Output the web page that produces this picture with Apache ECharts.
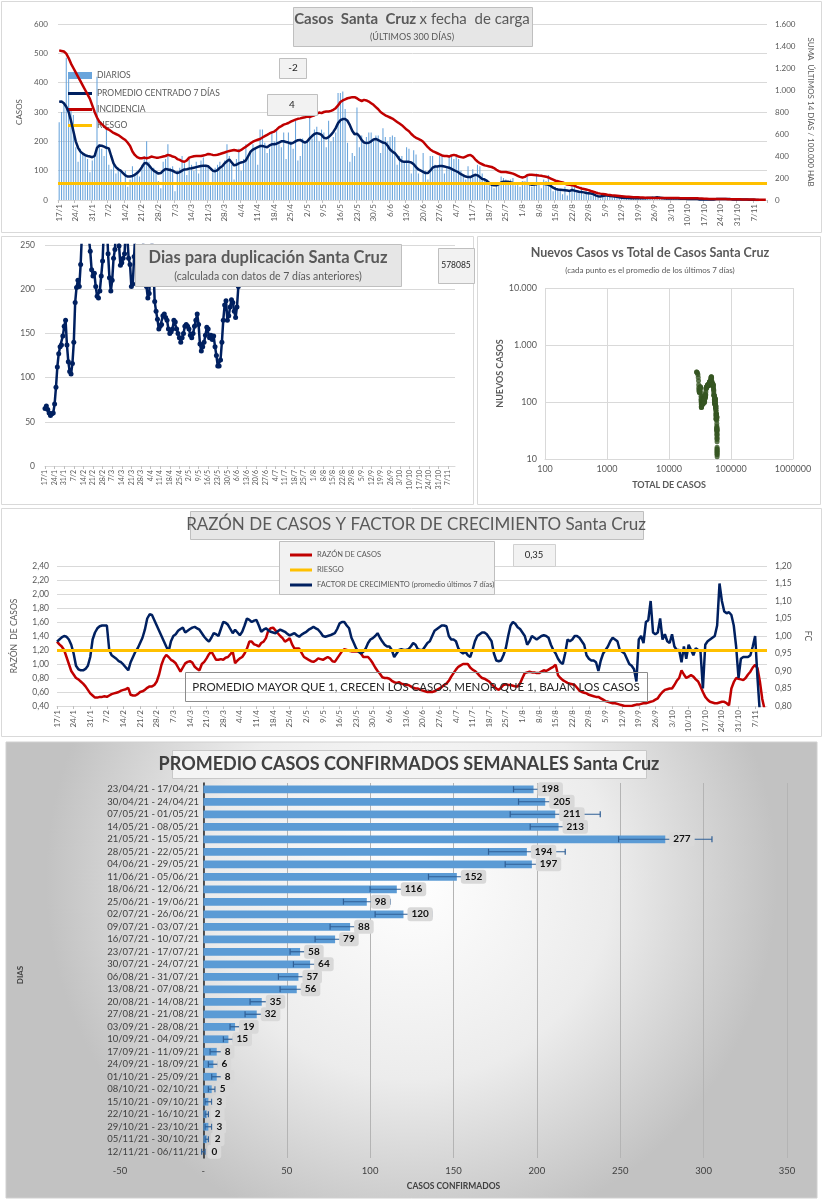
<!DOCTYPE html>
<html><head><meta charset="utf-8">
<script src="https://cdn.jsdelivr.net/npm/echarts/dist/echarts.min.js"></script>
<style>html,body{margin:0;padding:0;background:#fff}#c{width:823px;height:1200px}</style>
</head><body><div id="c"></div><script>
// ---------- DATA ----------
const FECHA_INICIO = [2021, 0, 17];
const diarios = [265,300,330,485,435,310,290,180,130,175,
160,150,140,95,135,160,420,190,175,150,
240,120,105,130,90,110,95,60,100,45,
70,115,90,100,80,120,150,200,130,105,
110,95,65,40,130,140,190,110,115,30,
100,110,150,125,85,140,120,100,130,90,
135,145,120,110,50,95,110,120,130,110,
135,190,150,120,70,140,175,100,140,190,
150,170,190,175,120,240,240,195,160,175,
230,200,240,190,180,230,140,230,200,175,
270,135,150,210,190,200,335,210,240,250,
200,240,230,180,270,200,215,230,365,365,
370,310,195,130,160,150,315,180,220,190,
215,230,230,205,220,220,160,245,215,200,
215,220,215,120,150,150,130,180,175,90,
170,155,90,60,160,100,70,150,150,120,
115,150,150,90,110,150,150,140,155,140,
100,85,70,115,80,105,85,120,115,90,
75,50,60,60,40,50,55,80,75,70,
60,70,75,50,55,45,65,60,85,55,
45,60,90,60,40,70,65,85,55,30,
45,40,35,20,45,15,30,55,45,25,
30,45,20,35,25,15,30,15,10,5,
15,20,15,10,8,15,12,10,8,5,
8,10,6,4,8,6,5,8,10,3,
5,12,10,8,12,6,4,6,5,6,
4,5,3,6,4,3,4,2,3,5,
2,3,1,2,4,2,3,2,1,4,
3,5,2,3,2,4,2,1,3,2,
2,1,3,0,0,1,0,0,0,0];
const promedio = [335,336,330,318,300,270,235,200,178,165,
158,153,150,148,146,150,178,186,185,182,
178,176,150,125,112,105,100,92,84,80,
80,82,86,92,100,112,125,126,118,108,
100,95,90,92,100,106,104,102,100,95,
92,95,100,104,105,107,108,110,112,114,
116,117,117,115,108,100,98,102,110,115,
125,132,138,128,118,120,125,128,130,135,
150,165,172,176,180,184,184,182,180,186,
190,190,192,196,200,200,198,196,192,195,
200,204,205,200,196,200,210,218,225,228,
226,222,212,210,214,222,232,245,262,272,
276,276,270,255,236,224,226,218,204,196,
194,195,200,206,208,204,200,196,194,185,
172,165,160,150,138,132,130,130,130,128,
122,112,104,100,96,92,92,100,110,114,
114,116,116,114,112,110,106,102,98,94,
88,84,80,78,78,82,86,84,78,72,
70,65,58,52,50,50,54,60,62,62,
62,60,58,57,57,56,57,58,56,54,
52,53,54,56,56,55,54,52,48,42,
38,36,35,34,33,32,31,34,32,30,
28,27,26,24,23,22,20,16,13,12,
14,15,15,14,13,12,11,9,8,8,
7,7,6,6,6,6,6,6,6,7,
7,8,8,9,8,7,6,5,5,5,
5,5,5,4,4,4,3,3,3,3,
3,2,2,2,2,2,2,2,3,3,
3,3,3,3,3,2,2,2,2,2,
2,2,1,1,1,0,0,null,null,null];
const incidencia = [1360,1355,1350,1330,1290,1240,1200,1160,1120,1080,
1040,1000,960,920,860,800,750,710,690,670,
650,640,625,610,600,590,575,560,545,520,
490,440,410,390,380,380,385,380,385,395,
390,385,385,390,395,400,410,405,395,390,
372,365,352,348,360,385,392,398,400,400,
400,405,410,418,415,410,408,412,418,425,
432,440,445,450,455,450,445,455,470,485,
500,515,530,540,548,555,568,580,592,605,
615,622,640,660,672,685,692,700,712,722,
730,738,742,748,752,758,755,762,770,785,
795,790,800,805,805,810,820,835,860,890,
905,915,925,930,935,935,925,910,900,910,
905,895,880,865,845,825,800,785,770,760,
750,740,725,710,695,680,660,640,625,600,
580,565,555,545,530,505,480,460,445,435,
425,415,405,400,400,395,405,410,405,395,
390,385,395,405,410,395,370,350,335,325,
315,310,305,300,290,275,262,255,255,255,
250,245,240,230,220,210,205,210,225,230,
230,228,225,222,220,215,212,205,195,185,
175,170,165,160,150,140,138,135,130,120,
112,105,100,95,90,82,75,68,62,58,
55,52,48,45,42,40,38,36,34,32,
30,29,28,26,25,24,23,22,21,20,
20,19,19,18,18,18,18,18,18,18,
18,18,18,17,17,17,16,16,16,15,
15,14,13,12,11,10,10,9,9,9,
8,8,8,7,7,7,6,6,6,5,
5,5,4,4,4,3,3,3,2,2];
const RIESGO_INCIDENCIA = 150;
const duplicacion = [65,68,64,60,57,59,60,70,89,112,
127,135,137,147,158,165,137,118,107,104,
116,140,185,202,210,203,228,265,300,330,
310,280,258,243,222,215,218,203,192,190,
198,215,232,270,300,280,240,213,198,210,
235,245,275,265,249,227,230,235,240,270,
260,235,228,203,206,237,270,300,320,310,
290,270,240,230,203,190,195,225,260,230,
186,175,166,155,158,160,170,172,168,165,
155,150,152,155,165,163,155,150,145,140,
145,150,158,160,158,155,148,145,150,158,
165,172,160,138,130,135,140,148,157,155,
145,148,143,147,135,125,113,113,120,140,
165,182,187,165,170,180,188,185,175,168,
180,203];
const TOTAL_INICIAL = 27500;
const razon = [1.32,1.28,1.25,1.20,1.10,1.00,0.90,0.85,0.80,0.78,
0.75,0.72,0.68,0.63,0.58,0.55,0.52,0.52,0.53,0.53,
0.54,0.53,0.55,0.57,0.58,0.59,0.60,0.62,0.63,0.64,
0.66,0.56,0.55,0.55,0.57,0.60,0.61,0.63,0.66,0.68,
0.68,0.70,0.75,0.85,0.99,1.08,1.13,1.10,1.06,1.04,
1.01,0.95,0.89,0.95,1.01,1.03,1.04,1.02,0.96,0.93,
0.91,1.00,1.03,1.08,1.14,1.18,1.12,1.06,1.06,1.07,
1.06,1.09,1.10,1.14,1.18,1.01,1.05,1.08,1.10,1.15,
1.22,1.32,1.32,1.28,1.27,1.25,1.30,1.32,1.37,1.48,
1.51,1.52,1.48,1.44,1.40,1.37,1.32,1.34,1.37,1.28,
1.22,1.22,1.22,1.16,1.10,1.08,1.06,1.04,1.03,1.05,
1.08,1.07,1.06,1.08,1.10,1.08,1.04,1.03,1.08,1.13,
1.18,1.21,1.20,1.19,1.18,1.18,1.18,1.18,1.15,1.10,
1.10,1.10,1.06,1.01,0.95,0.90,0.86,0.81,0.80,0.80,
0.79,0.76,0.74,0.73,0.74,0.72,0.71,0.70,0.70,0.68,
0.66,0.65,0.65,0.63,0.62,0.61,0.60,0.60,0.60,0.61,
0.63,0.65,0.67,0.70,0.72,0.76,0.82,0.87,0.92,0.96,
0.98,1.00,1.00,1.00,0.95,0.92,0.90,0.87,0.83,0.80,
0.79,0.77,0.75,0.71,0.68,0.65,0.63,0.66,0.70,0.71,
0.70,0.70,0.69,0.68,0.68,0.72,0.80,0.87,0.88,0.89,
0.88,0.88,0.87,0.87,0.89,0.91,0.90,0.92,0.94,0.96,
0.99,0.84,0.80,0.77,0.75,0.73,0.72,0.71,0.70,0.66,
0.62,0.60,0.59,0.58,0.56,0.55,0.54,0.53,0.53,0.51,
0.49,0.47,0.46,0.45,0.44,0.44,0.43,0.42,0.41,0.40,
0.40,0.40,0.40,0.41,0.42,0.42,0.43,0.44,0.44,0.45,
0.46,0.47,0.49,0.51,0.56,0.60,0.63,0.64,0.65,0.65,
0.70,0.76,0.80,0.91,0.85,0.80,0.82,0.84,0.82,0.78,
0.75,0.68,0.60,0.53,0.49,0.46,0.45,0.44,0.44,0.45,
0.46,0.46,0.44,0.41,0.65,0.74,0.80,0.79,0.78,0.77,
0.80,0.85,0.89,0.95,0.99,0.94,0.75,0.50,0.35,0.35];
const factor = [0.984,0.99,0.996,1.0,0.998,0.99,0.975,0.95,0.915,0.905,
0.902,0.902,0.906,0.915,0.94,0.99,1.01,1.022,1.028,1.03,
1.03,1.03,0.96,0.945,0.94,0.935,0.928,0.925,0.918,0.91,
0.902,0.925,0.94,0.955,0.965,0.98,0.995,1.018,1.05,1.062,
1.06,1.045,1.03,1.015,1.0,0.985,0.97,0.956,0.985,1.0,
1.005,1.015,1.02,1.024,1.01,1.015,1.02,1.024,1.026,1.022,
1.018,1.008,0.998,0.99,0.984,0.995,1.008,1.005,1.0,1.02,
1.04,1.038,1.032,1.02,1.008,1.018,1.01,1.002,1.012,1.03,
1.05,1.046,1.04,1.044,1.046,1.03,1.012,1.018,1.022,1.016,
1.012,1.01,1.008,1.014,1.018,1.015,1.012,1.006,1.002,1.005,
1.008,1.002,0.998,1.004,1.008,1.012,1.018,1.022,1.026,1.022,
1.018,1.01,1.0,0.998,1.0,1.002,1.005,1.008,1.02,1.036,
1.04,1.04,1.03,1.022,0.995,0.98,0.964,0.955,0.95,0.955,
0.964,0.98,0.99,0.994,1.0,1.008,0.995,0.984,0.975,0.97,
0.97,0.96,0.94,0.95,0.96,0.962,0.96,0.96,0.962,0.97,
0.98,0.975,0.962,0.96,0.96,0.97,0.98,0.985,1.0,1.015,
1.02,1.025,1.03,1.03,1.028,1.0,0.99,0.99,0.985,0.965,
0.955,0.95,0.955,0.945,0.94,0.96,0.985,1.0,1.005,1.01,
1.01,1.005,0.995,0.985,0.95,0.93,0.928,0.93,0.945,0.965,
1.0,1.03,1.04,1.035,1.025,1.02,1.01,1.0,0.975,0.985,
1.0,0.995,0.99,0.995,1.0,1.002,1.0,0.995,0.975,0.96,
0.95,0.935,0.925,0.92,0.95,0.99,0.985,0.99,1.0,1.0,
0.995,0.985,0.975,0.945,0.935,0.93,0.93,0.925,0.9,0.93,
0.95,0.96,0.97,0.985,0.995,0.99,0.985,0.96,0.955,0.95,
0.935,0.92,0.915,0.905,0.87,0.99,1.0,0.98,1.04,1.045,
1.10,1.01,1.005,1.01,1.05,0.99,1.005,0.985,0.98,1.005,
0.97,0.96,0.96,0.925,0.97,0.935,0.975,0.96,0.945,0.965,
0.96,0.955,0.85,0.975,0.985,0.99,0.995,1.0,1.03,1.15,
1.10,1.07,1.065,1.068,1.06,1.03,0.97,0.88,0.935,0.94,
0.94,0.94,0.945,0.97,1.0,0.88,0.78,null,null,null];
const RIESGO_RAZON = 1.2;
const semanas = ["23/04/21 - 17/04/21","30/04/21 - 24/04/21","07/05/21 - 01/05/21","14/05/21 - 08/05/21","21/05/21 - 15/05/21","28/05/21 - 22/05/21","04/06/21 - 29/05/21","11/06/21 - 05/06/21","18/06/21 - 12/06/21","25/06/21 - 19/06/21","02/07/21 - 26/06/21","09/07/21 - 03/07/21","16/07/21 - 10/07/21","23/07/21 - 17/07/21","30/07/21 - 24/07/21","06/08/21 - 31/07/21","13/08/21 - 07/08/21","20/08/21 - 14/08/21","27/08/21 - 21/08/21","03/09/21 - 28/08/21","10/09/21 - 04/09/21","17/09/21 - 11/09/21","24/09/21 - 18/09/21","01/10/21 - 25/09/21","08/10/21 - 02/10/21","15/10/21 - 09/10/21","22/10/21 - 16/10/21","29/10/21 - 23/10/21","05/11/21 - 30/10/21","12/11/21 - 06/11/21"];
const promSemanal = [198,205,211,213,277,194,197,152,116,98,120,88,79,58,64,57,56,35,32,19,15,8,6,8,5,3,2,3,2,0];
const errSemanal = [12,16,27,17,28,23,16,17,16,14,17,12,12,6,10,12,10,7,7,3,3,4,3,3,2,2,1,2,1,1];

// ---------- derived ----------
const fechas = diarios.map((_, i) => { const d = new Date(FECHA_INICIO[0], FECHA_INICIO[1], FECHA_INICIO[2] + i); return d.getDate() + '/' + (d.getMonth() + 1); });
const puntos = []; let acum = TOTAL_INICIAL;
diarios.forEach((v, i) => { acum += v; const p = promedio[i]; if (p != null && p >= 10) puntos.push([acum, p]); });

const F = 'Lato, "Liberation Sans", sans-serif';
const G = '#595959';
const num = v => typeof v === 'number' ? v : Number(String(v).replace(/[^\d.\-]/g, ''));
const miles = v => String(Math.round(num(v))).replace(/\B(?=(\d{3})+(?!\d))/g, '.');
const plano = v => String(Math.round(num(v)));
const coma2 = v => num(v).toFixed(2).replace('.', ',');
const LGRID = '#d9d9d9';

function box(x, y, w, h, fill, stroke) {
  return { type: 'rect', shape: { x: x + 0.5, y: y + 0.5, width: w, height: h }, style: { fill: fill, stroke: stroke, lineWidth: 1 }, z: 10 };
}
function txt(x, y, t, size, weight, color, extra) {
  return Object.assign({ type: 'text', x: x, y: y, z: 11, style: { text: t, fontSize: size, fontWeight: weight || 'normal', fontFamily: F, fill: color || G, align: 'center', verticalAlign: 'middle' } }, extra || {});
}
const catX = (gi, size, boundary) => ({
  gridIndex: gi, type: 'category', data: fechas, boundaryGap: boundary,
  axisLine: { lineStyle: { color: LGRID } },
  axisTick: { show: true, interval: 6, length: 3, lineStyle: { color: '#bfbfbf' } },
  axisLabel: { interval: 6, rotate: 90, fontSize: size, color: G, margin: 4 }
});
const legTxt = { fontSize: 8.5, color: G, fontFamily: F };

const chart = echarts.init(document.getElementById('c'));
chart.setOption({
  animation: false,
  textStyle: { fontFamily: F },
  grid: [
    { left: 58, top: 24, width: 712, height: 176 },
    { left: 45, top: 245, width: 410, height: 221 },
    { left: 545, top: 288, width: 248, height: 171 },
    { left: 57, top: 566, width: 710, height: 140 },
    { left: 120, top: 783, width: 667, height: 375 }
  ],
  legend: [
    { data: ['DIARIOS'], orient: 'vertical', left: 63, top: 66, itemWidth: 24, itemHeight: 7, selectedMode: false, textStyle: legTxt, icon: 'rect' },
    { data: ['PROMEDIO CENTRADO 7 DÍAS', 'INCIDENCIA', 'RIESGO'], orient: 'vertical', left: 63, top: 84, itemGap: 7, itemWidth: 24, itemHeight: 3, icon: 'rect', selectedMode: false, textStyle: legTxt },
    { data: ['RAZÓN DE CASOS', 'RIESGO ', 'FACTOR DE CRECIMIENTO (promedio últimos 7 días)'], formatter: n => n.trim(), orient: 'vertical', left: 285, top: 546, itemGap: 7, itemWidth: 22, itemHeight: 3, icon: 'rect', selectedMode: false, textStyle: { fontSize: 7.5, color: G, fontFamily: F } }
  ],
  xAxis: [
    catX(0, 8, true),
    catX(1, 7, false),
    { gridIndex: 2, type: 'log', logBase: 10, min: 100, max: 1000000, name: 'TOTAL DE CASOS', nameLocation: 'middle', nameGap: 22, nameTextStyle: { fontWeight: 'bold', fontSize: 9, color: G }, axisLabel: { fontSize: 9, color: G, margin: 6, formatter: plano }, axisTick: { show: false }, axisLine: { lineStyle: { color: LGRID } }, splitLine: { show: true, lineStyle: { color: LGRID } } },
    catX(3, 8, false),
    { gridIndex: 4, type: 'value', min: -50, max: 350, interval: 50, name: 'CASOS CONFIRMADOS', nameLocation: 'middle', nameGap: 24, nameTextStyle: { fontWeight: 'bold', fontSize: 8.5, color: '#404040' }, axisLine: { show: false }, axisTick: { show: false }, axisLabel: { fontSize: 9.5, color: '#404040', formatter: v => v === 0 ? '-' : String(v) }, splitLine: { show: true, showMinLine: false, lineStyle: { color: '#b4b4b4' } } }
  ],
  yAxis: [
    { gridIndex: 0, type: 'value', min: 0, max: 600, interval: 100, name: 'CASOS', nameLocation: 'middle', nameGap: 32, nameTextStyle: { fontSize: 8, color: G }, axisLabel: { fontSize: 8, color: G, margin: 10 }, axisLine: { show: false }, axisTick: { show: false }, splitLine: { lineStyle: { color: LGRID } } },
    { gridIndex: 0, type: 'value', min: 0, max: 1600, interval: 200, position: 'right', name: 'SUMA  ÚLTIMOS 14 DÍAS / 100.000 HAB', nameLocation: 'middle', nameGap: 40, nameRotate: -90, nameTextStyle: { fontSize: 8, color: G }, axisLabel: { fontSize: 8, color: G, margin: 8, formatter: miles }, axisLine: { show: false }, axisTick: { show: false }, splitLine: { show: false } },
    { gridIndex: 1, type: 'value', min: 0, max: 250, interval: 50, axisLabel: { fontSize: 8.5, color: G, margin: 10 }, axisLine: { show: false }, axisTick: { show: false }, splitLine: { lineStyle: { color: LGRID } } },
    { gridIndex: 2, type: 'log', logBase: 10, min: 10, max: 10000, name: 'NUEVOS CASOS', nameLocation: 'middle', nameGap: 40, nameTextStyle: { fontWeight: 'bold', fontSize: 9, color: G }, axisLabel: { fontSize: 9, color: G, formatter: miles }, axisLine: { show: false }, axisTick: { show: false }, splitLine: { show: true, lineStyle: { color: LGRID } } },
    { gridIndex: 3, type: 'value', min: 0.4, max: 2.4, interval: 0.2, name: 'RAZÓN  DE CASOS', nameLocation: 'middle', nameGap: 38, nameTextStyle: { fontSize: 8.5, color: G }, axisLabel: { fontSize: 8.5, color: G, formatter: coma2, margin: 8 }, axisLine: { show: false }, axisTick: { show: false }, splitLine: { lineStyle: { color: LGRID } } },
    { gridIndex: 3, type: 'value', min: 0.8, max: 1.2, interval: 0.05, position: 'right', name: 'FC', nameLocation: 'middle', nameGap: 36, nameRotate: -90, nameTextStyle: { fontSize: 8.5, color: G }, axisLabel: { fontSize: 8.5, color: G, formatter: coma2, margin: 8 }, axisLine: { show: false }, axisTick: { show: false }, splitLine: { show: false } },
    { gridIndex: 4, type: 'category', data: semanas, inverse: true, axisLine: { onZero: true, lineStyle: { color: '#262626', width: 1.5 } }, axisTick: { show: false }, axisLabel: { interval: 0, fontSize: 9.5, color: '#404040', margin: -79 } }
  ],
  series: [
    { name: 'DIARIOS', type: 'bar', xAxisIndex: 0, yAxisIndex: 0, data: diarios, barWidth: '45%', itemStyle: { color: '#6aa5dc' } },
    { name: 'PROMEDIO CENTRADO 7 DÍAS', type: 'line', xAxisIndex: 0, yAxisIndex: 0, data: promedio, symbol: 'none', lineStyle: { color: '#002060', width: 2.5 }, itemStyle: { color: '#002060' }, z: 4 },
    { name: 'INCIDENCIA', type: 'line', xAxisIndex: 0, yAxisIndex: 1, data: incidencia, symbol: 'none', lineStyle: { color: '#c00000', width: 2.5 }, itemStyle: { color: '#c00000' }, z: 4,
      markLine: { silent: true, symbol: 'none', label: { show: false }, lineStyle: { color: '#ffc000', width: 3, type: 'solid' }, data: [{ yAxis: RIESGO_INCIDENCIA }] } },
    { name: 'RIESGO', type: 'line', xAxisIndex: 0, yAxisIndex: 1, data: [], symbol: 'none', lineStyle: { color: '#ffc000', width: 3 }, itemStyle: { color: '#ffc000' } },

    { name: 'dup', type: 'line', xAxisIndex: 1, yAxisIndex: 2, data: duplicacion, symbol: 'circle', symbolSize: 5, showAllSymbol: true, clip: true, lineStyle: { color: '#002060', width: 2.5 }, itemStyle: { color: '#002060' } },

    { name: 'nuevos', type: 'scatter', xAxisIndex: 2, yAxisIndex: 3, data: puntos, symbolSize: 5, itemStyle: { color: '#375623' } },

    { name: 'RAZÓN DE CASOS', type: 'line', xAxisIndex: 3, yAxisIndex: 4, data: razon, symbol: 'none', clip: true, lineStyle: { color: '#c00000', width: 2.5 }, itemStyle: { color: '#c00000' },
      markLine: { silent: true, symbol: 'none', label: { show: false }, lineStyle: { color: '#ffc000', width: 3, type: 'solid' }, data: [{ yAxis: RIESGO_RAZON }] } },
    { name: 'RIESGO ', type: 'line', xAxisIndex: 3, yAxisIndex: 4, data: [], symbol: 'none', lineStyle: { color: '#ffc000', width: 3 }, itemStyle: { color: '#ffc000' } },
    { name: 'FACTOR DE CRECIMIENTO (promedio últimos 7 días)', type: 'line', xAxisIndex: 3, yAxisIndex: 5, data: factor, symbol: 'none', clip: true, lineStyle: { color: '#002060', width: 2.5 }, itemStyle: { color: '#002060' } },

    { name: 'semanal', type: 'bar', xAxisIndex: 4, yAxisIndex: 6, data: promSemanal, barWidth: '62%', itemStyle: { color: '#5b9bd5' } },
    { name: 'error', type: 'custom', xAxisIndex: 4, yAxisIndex: 6, z: 5,
      data: promSemanal.map((v, i) => [v, i, errSemanal[i]]),
      encode: { x: 0, y: 1 },
      renderItem: function (params, api) {
        const v = api.value(0), i = api.value(1), e = api.value(2);
        const a = api.coord([v - e, i]), b = api.coord([v + e, i]), c = api.coord([v, i]);
        const st = { stroke: '#2f5f96', lineWidth: 1.2 };
        return { type: 'group', children: [
          { type: 'line', shape: { x1: a[0], y1: a[1], x2: b[0], y2: b[1] }, style: st },
          { type: 'line', shape: { x1: a[0], y1: a[1] - 3, x2: a[0], y2: a[1] + 3 }, style: st },
          { type: 'line', shape: { x1: b[0], y1: b[1] - 3, x2: b[0], y2: b[1] + 3 }, style: st },
          { type: 'text', x: c[0] + 4, y: c[1], style: { text: String(v), fontSize: 10, fontWeight: 'bold', fontFamily: F, fill: '#111', backgroundColor: '#d9d9d9', padding: [2, 4, 2, 4], borderRadius: 3, align: 'left', verticalAlign: 'middle' } }
        ] };
      } }
  ],
  graphic: [
    { type: 'rect', shape: { x: 6, y: 742, width: 811, height: 456 }, style: { fill: new echarts.graphic.RadialGradient(0.5, 0.3, 0.8, [{ offset: 0, color: '#ffffff' }, { offset: 0.55, color: '#ececec' }, { offset: 1, color: '#c2c2c2' }]), stroke: '#d0d0d0' }, z: -10 },
    { type: 'rect', shape: { x: 1.5, y: 1.5, width: 820, height: 231 }, style: { fill: 'none', stroke: LGRID }, z: -5 },
    { type: 'rect', shape: { x: 1.5, y: 236.5, width: 472, height: 268 }, style: { fill: 'none', stroke: LGRID }, z: -5 },
    { type: 'rect', shape: { x: 477.5, y: 236.5, width: 343, height: 268 }, style: { fill: 'none', stroke: LGRID }, z: -5 },
    { type: 'rect', shape: { x: 1.5, y: 508.5, width: 820, height: 228 }, style: { fill: 'none', stroke: LGRID }, z: -5 },
    box(293, 7, 239, 39, '#e6e6e6', '#bfbfbf'),
    { type: 'text', x: 412, y: 19, z: 11, style: { text: '{b|Casos  Santa  Cruz} {n|x fecha  de carga}', align: 'center', verticalAlign: 'middle', rich: { b: { fontSize: 15, fontWeight: 'bold', fontFamily: F, fill: G }, n: { fontSize: 15, fontFamily: F, fill: G } } } },
    txt(412, 37, '(ÚLTIMOS 300 DÍAS)', 9, 'normal', G),
    box(279, 58, 27, 20, '#f2f2f2', '#bfbfbf'),
    txt(293, 68, '-2', 10, 'normal', '#262626'),
    box(267, 94, 50, 21, '#f2f2f2', '#bfbfbf'),
    txt(292, 105, '4', 10, 'normal', '#262626'),
    box(135, 244, 266, 42, '#e6e6e6', '#bfbfbf'),
    txt(268, 258, 'Dias para duplicación Santa Cruz', 16.5, 'bold', G),
    txt(268, 277, '(calculada con datos de 7 días anteriores)', 10.5, 'normal', G),
    box(438, 248, 36, 35, '#f2f2f2', '#bfbfbf'),
    txt(456, 265, '578085', 8.5, 'normal', '#262626'),
    txt(650, 253, 'Nuevos Casos vs Total de Casos Santa Cruz', 12.5, 'bold', G),
    txt(650, 270, '(cada punto es el promedio de los últimos 7 días)', 8, 'normal', G),
    box(190, 511, 453, 28, '#e6e6e6', '#bfbfbf'),
    txt(416, 525, 'RAZÓN DE CASOS Y FACTOR DE CRECIMIENTO Santa Cruz', 17, 'normal', G),
    Object.assign(box(279, 541, 215, 53, '#f2f2f2', '#bfbfbf'), { z: 1 }),
    box(513, 544, 42, 22, '#f2f2f2', '#d0d0d0'),
    txt(534, 555, '0,35', 9.5, 'normal', '#262626'),
    box(185, 672, 462, 29, 'rgba(255,255,255,0)', '#8c8c8c'),
    txt(416, 687, 'PROMEDIO MAYOR QUE 1, CRECEN LOS CASOS, MENOR QUE 1, BAJAN LOS CASOS', 11.5, 'normal', '#262626'),
    box(172, 750, 474, 28, '#f4f4f4', '#c8c8c8'),
    txt(409, 764, 'PROMEDIO CASOS CONFIRMADOS SEMANALES Santa Cruz', 18, 'bold', '#404040'),
    txt(20, 975, 'DIAS', 8, 'bold', '#404040', { rotation: Math.PI / 2 })
  ]
});
</script></body></html>
